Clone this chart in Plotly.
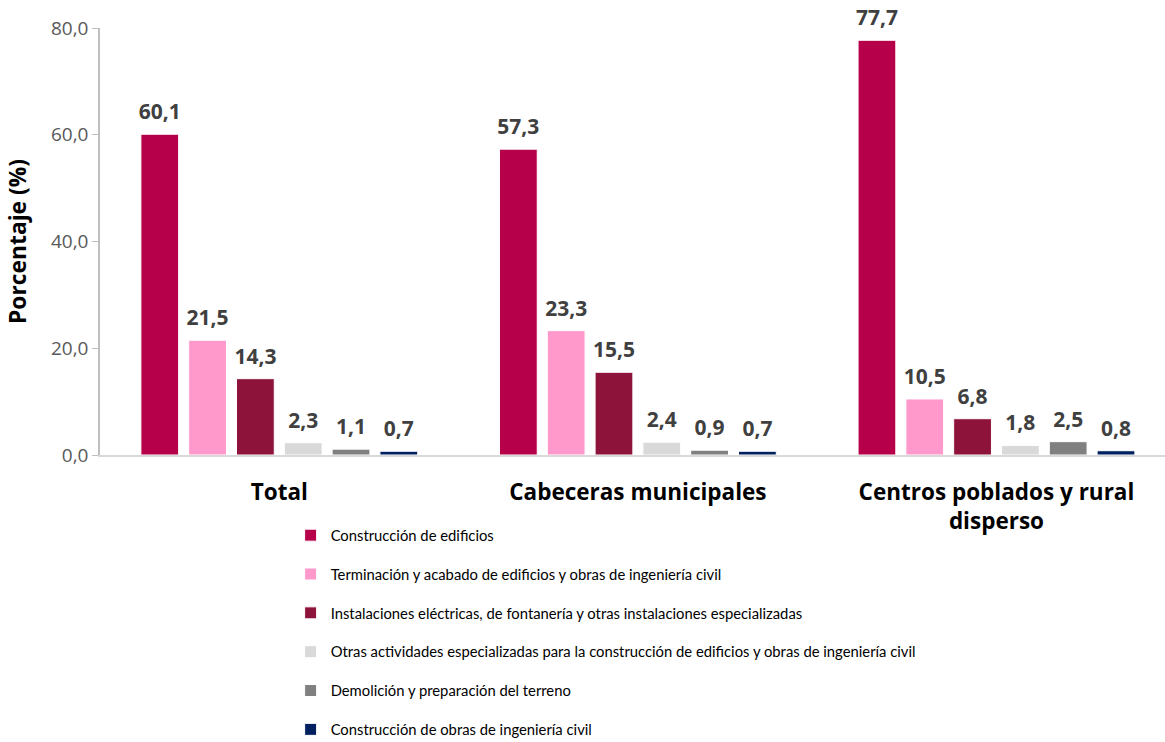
import plotly.graph_objects as go

categories = ["Total", "Cabeceras municipales", "Centros poblados y rural<br>disperso"]

series_names = [
    "Construcción de edificios",
    "Terminación y acabado de edificios y obras de ingeniería civil",
    "Instalaciones eléctricas, de fontanería y otras instalaciones especializadas",
    "Otras actividades especializadas para la construcción de edificios y obras de ingeniería civil",
    "Demolición y preparación del terreno",
    "Construcción de obras de ingeniería civil",
]

edificios = [60.1, 57.3, 77.7]
terminacion = [21.5, 23.3, 10.5]
instalaciones = [14.3, 15.5, 6.8]
otras = [2.3, 2.4, 1.8]
demolicion = [1.1, 0.9, 2.5]
obras_civiles = [0.7, 0.7, 0.8]

series_values = [edificios, terminacion, instalaciones, otras, demolicion, obras_civiles]

colors = ["#B7004A", "#FF99CC", "#8E133B", "#D9D9D9", "#808080", "#002060"]

fig = go.Figure()

for i, (name, vals, col) in enumerate(zip(series_names, series_values, colors)):
    fig.add_trace(go.Bar(
        x=categories, y=vals, name=name,
        marker=dict(color=col, line=dict(color="white", width=1)),
        offsetgroup=str(i), legendgroup=str(i),
        hoverinfo="skip",
    ))

# value labels above each bar
for i, vals in enumerate(series_values):
    fig.add_trace(go.Scatter(
        x=categories, y=vals, mode="text+markers",
        marker=dict(size=14, opacity=0),
        text=[f"{v:.1f}".replace(".", ",") for v in vals],
        textposition="top center",
        textfont=dict(family="Open Sans, sans-serif", size=21, color="#404040", weight="bold"),
        offsetgroup=str(i), showlegend=False, hoverinfo="skip", cliponaxis=False,
    ))

fig.update_layout(
    width=1165, height=742,
    margin=dict(l=100, r=0, t=28, b=287, autoexpand=False),
    paper_bgcolor="white", plot_bgcolor="white",
    barmode="group", scattermode="group",
    bargap=0.2, bargroupgap=0.21,
    separators=",.",
    font=dict(family="Open Sans, sans-serif", color="#595959"),
    legend=dict(
        x=0.179, xanchor="left", y=-0.15, yanchor="top",
        orientation="v", tracegroupgap=16.6,
        font=dict(family="Lato, sans-serif", size=14.8, color="#000000"),
        itemwidth=30,
    ),
    showlegend=True,
)

fig.update_yaxes(
    range=[0, 80], dtick=20, tickformat=".1f",
    showgrid=False, zeroline=False, automargin=False,
    showline=True, linecolor="#BFBFBF", linewidth=1.5,
    ticks="outside", ticklen=6, tickcolor="#BFBFBF",
    tickfont=dict(family="Open Sans, sans-serif", size=19, color="#595959"),
    title=dict(text="Porcentaje (%)", standoff=18,
               font=dict(family="Open Sans, sans-serif", size=22.8, color="#000000", weight="bold")),
)

fig.update_xaxes(
    range=[-0.5, 2.47], automargin=False,
    showgrid=False, showline=True, linecolor="#D9D9D9", linewidth=2,
    ticks="", ticklabelstandoff=16,
    tickfont=dict(family="Open Sans, sans-serif", size=22.5, color="#000000", weight="bold"),
)

# drop the default 8px page margin so the figure fills the window exactly
fig.write_html(
    "out.html",
    config={"displayModeBar": False},
    post_script="document.body.style.margin='0';",
)
